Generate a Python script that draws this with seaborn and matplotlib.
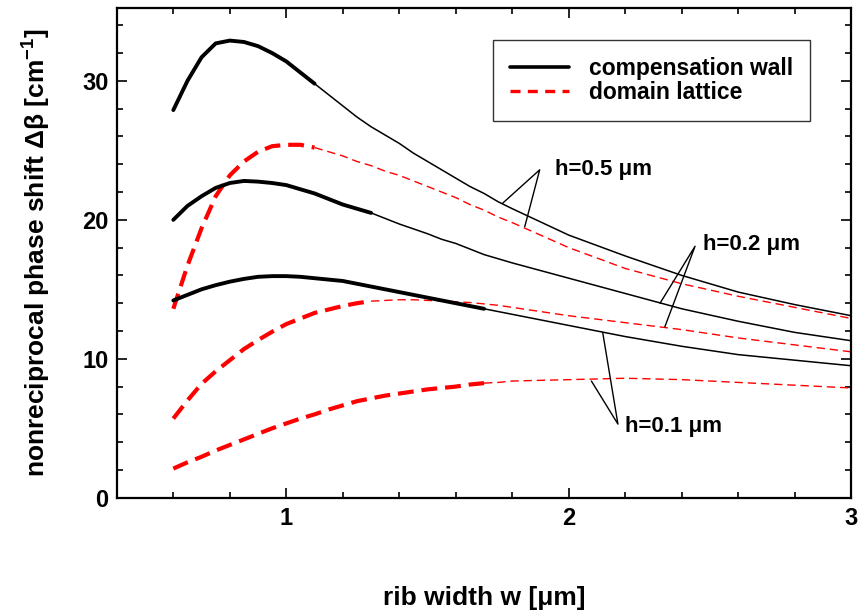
import numpy as np
import pandas as pd
import matplotlib
matplotlib.use("Agg")
import matplotlib.pyplot as plt
import seaborn as sns
from matplotlib.lines import Line2D
from matplotlib.ticker import MultipleLocator

sns.set_theme(style="ticks")
plt.rcParams['font.family'] = ['Liberation Sans', 'DejaVu Sans']
plt.rcParams['font.weight'] = 'bold'
plt.rcParams['text.color'] = 'black'
plt.rcParams['axes.labelcolor'] = 'black'
plt.rcParams['xtick.color'] = 'black'
plt.rcParams['ytick.color'] = 'black'
plt.rcParams['mathtext.fontset'] = 'custom'
plt.rcParams['mathtext.rm'] = 'Liberation Sans:bold'
plt.rcParams['mathtext.bf'] = 'Liberation Sans:bold'
plt.rcParams['mathtext.it'] = 'Liberation Sans:bold'
plt.rcParams['mathtext.default'] = 'rm'

# rib width grid (um)
w = [0.6, 0.65, 0.7, 0.75, 0.8, 0.85, 0.9, 0.95, 1.0, 1.05, 1.1, 1.15, 1.2, 1.25,
     1.3, 1.35, 1.4, 1.45, 1.5, 1.55, 1.6, 1.65, 1.7, 1.75, 1.8,
     2.0, 2.2, 2.4, 2.6, 2.8, 3.0]

# compensation wall
cw_h05 = [27.9, 30.0, 31.7, 32.7, 32.9, 32.8, 32.5, 32.0, 31.4, 30.6, 29.8, 29.0, 28.2, 27.4,
          26.7, 26.1, 25.5, 24.8, 24.2, 23.6, 23.0, 22.4, 21.9, 21.3, 20.8,
          18.9, 17.4, 16.0, 14.8, 13.9, 13.1]
cw_h02 = [20.0, 21.0, 21.7, 22.3, 22.65, 22.8, 22.75, 22.65, 22.5, 22.2, 21.9, 21.5, 21.1, 20.8,
          20.5, 20.1, 19.7, 19.35, 19.0, 18.6, 18.3, 17.9, 17.5, 17.2, 16.9,
          15.8, 14.7, 13.6, 12.7, 11.9, 11.3]
cw_h01 = [14.2, 14.6, 15.0, 15.3, 15.55, 15.75, 15.9, 15.95, 15.95, 15.9, 15.8, 15.7, 15.6, 15.4,
          15.2, 15.0, 14.8, 14.6, 14.4, 14.2, 14.0, 13.8, 13.6, 13.4, 13.2,
          12.4, 11.6, 10.9, 10.3, 9.9, 9.5]
# domain lattice
dl_h05 = [13.6, 16.7, 19.4, 21.7, 23.2, 24.2, 24.9, 25.3, 25.4, 25.4, 25.2, 24.9, 24.6, 24.2,
          23.9, 23.5, 23.2, 22.8, 22.4, 22.0, 21.6, 21.1, 20.7, 20.2, 19.8,
          18.0, 16.5, 15.4, 14.5, 13.7, 12.9]
dl_h02 = [5.7, 7.0, 8.2, 9.1, 9.9, 10.7, 11.35, 11.95, 12.5, 12.9, 13.3, 13.55, 13.8, 14.0,
          14.15, 14.2, 14.25, 14.25, 14.2, 14.15, 14.1, 14.05, 13.95, 13.85, 13.7,
          13.1, 12.6, 12.1, 11.5, 11.0, 10.5]
dl_h01 = [2.1, 2.55, 2.95, 3.4, 3.8, 4.2, 4.6, 5.0, 5.35, 5.7, 6.0, 6.35, 6.65, 6.95,
          7.15, 7.35, 7.5, 7.65, 7.8, 7.9, 8.0, 8.15, 8.25, 8.3, 8.4,
          8.5, 8.6, 8.5, 8.3, 8.1, 7.9]

# width limit of the thick (valid) part for each h
h_labels = ["h=0.5 μm", "h=0.2 μm", "h=0.1 μm"]
w_thick = [1.1, 1.3, 1.7]

fig = plt.figure(figsize=(8.59, 6.10), dpi=100)
ax = fig.add_axes([0.136, 0.184, 0.855, 0.803])

curves = [(cw_h05, dl_h05, w_thick[0]), (cw_h02, dl_h02, w_thick[1]), (cw_h01, dl_h01, w_thick[2])]
for cw, dl, wt in curves:
    df = pd.DataFrame({"w": w, "cw": cw, "dl": dl})
    thick = df[df.w <= wt + 1e-9]
    thin = df[df.w >= wt - 1e-9]
    sns.lineplot(data=thin, x="w", y="dl", ax=ax, color="red", lw=1.0,
                 linestyle=(0, (6, 3.5)), estimator=None)
    sns.lineplot(data=thick, x="w", y="dl", ax=ax, color="red", lw=3.0,
                 linestyle=(0, (3.8, 1.9)), estimator=None)
    sns.lineplot(data=thin, x="w", y="cw", ax=ax, color="black", lw=1.1, estimator=None)
    sns.lineplot(data=thick, x="w", y="cw", ax=ax, color="black", lw=2.8, estimator=None,
                 solid_capstyle='round', solid_joinstyle='round')

ax.set_xlim(0.4, 3.0)
ax.set_ylim(0, 35.25)
ax.xaxis.set_major_locator(MultipleLocator(1))
ax.xaxis.set_minor_locator(MultipleLocator(0.2))
ax.yaxis.set_major_locator(MultipleLocator(10))
ax.yaxis.set_minor_locator(MultipleLocator(2))
ax.tick_params(which='both', direction='in', top=True, right=True, width=1.2,
               labelsize=17, pad=7, colors='black')
ax.tick_params(axis='y', which='both', pad=6)
ax.tick_params(which='major', length=7)
ax.tick_params(which='minor', length=4)
for s in ax.spines.values():
    s.set_linewidth(1.6)
    s.set_color('black')
for lab in ax.get_xticklabels() + ax.get_yticklabels():
    lab.set_fontweight('bold')

ax.set_xlabel("rib width w [μm]", fontsize=19, fontweight='bold', labelpad=40)
ax.set_ylabel("nonreciprocal phase shift Δβ [cm$^{-1}$]", fontsize=19,
              fontweight='bold', labelpad=21)

# annotations (vertex, end on compensation-wall curve, end on domain-lattice curve, text pos)
ann_geom = [((1.897, 23.6), (1.766, 21.2), (1.844, 19.5), (1.95, 23.6)),
            ((2.447, 18.1), (2.323, 14.0), (2.34, 12.3), (2.475, 18.2)),
            ((2.174, 5.3), (2.12, 11.9), (2.08, 8.4), (2.20, 5.1))]
for text, (v, e1, e2, tp) in zip(h_labels, ann_geom):
    ax.plot([e1[0], v[0], e2[0]], [e1[1], v[1], e2[1]], color='black', lw=1.0)
    ax.text(tp[0], tp[1], text, fontsize=16, fontweight='bold', va='center', ha='left')

handles = [Line2D([], [], color='black', lw=2.6),
           Line2D([], [], color='red', lw=2.4, linestyle=(0, (3.0, 2.2)))]
leg = ax.legend(handles, ["compensation wall", "domain lattice"], loc='upper right',
                bbox_to_anchor=(0.944, 0.935), fontsize=16.5, frameon=True, fancybox=False,
                edgecolor='black', handlelength=2.6, borderpad=0.75, labelspacing=0.05,
                handletextpad=0.85, borderaxespad=0)
leg.get_frame().set_linewidth(1.0)
for t in leg.get_texts():
    t.set_fontweight('bold')

fig.savefig("out.png", dpi=100)
